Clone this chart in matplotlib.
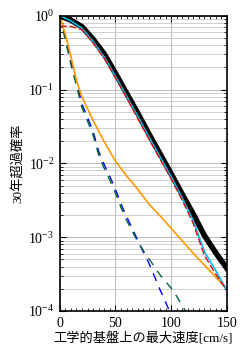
import numpy as np
import matplotlib
matplotlib.use("Agg")
import matplotlib.pyplot as plt
from matplotlib.ticker import LogLocator, MultipleLocator, NullFormatter

plt.rcParams['font.family'] = ['Liberation Serif', 'Noto Sans CJK JP']
plt.rcParams['mathtext.fontset'] = 'stix'

# values, as log10 of the exceedance probability
x_main = [0, 10, 20, 30, 40, 50, 60, 70, 80, 90, 100, 110, 120, 130, 140, 150]
black_dec = [0, 0.06, 0.15, 0.32, 0.52, 0.78, 1.05, 1.32, 1.60, 1.87, 2.14, 2.42, 2.69, 2.98, 3.21, 3.42]
cyan_dec = [0, 0.07, 0.17, 0.35, 0.56, 0.82, 1.09, 1.36, 1.64, 1.91, 2.18, 2.47, 2.78, 3.20, 3.45, 3.72]
red_dec = [0.14, 0.145, 0.19, 0.37, 0.58, 0.84, 1.11, 1.39, 1.67, 1.94, 2.21, 2.50, 2.82, 3.25, 3.50, 3.72]

x_orange = [0, 5, 10, 15, 20, 30, 40, 50, 60, 70, 80, 90, 100, 110, 120, 130, 140, 150]
orange_dec = [0, 0.25, 0.55, 0.88, 1.10, 1.42, 1.71, 1.97, 2.17, 2.35, 2.55, 2.71, 2.88, 3.05, 3.22, 3.38, 3.54, 3.70]

x_blue = [0, 5, 10, 15, 20, 25, 30, 35, 40, 45, 50, 55, 60, 65, 70, 75, 80, 85, 90, 95, 100]
blue_dec = [0, 0.30, 0.62, 0.90, 1.20, 1.38, 1.57, 1.84, 2.02, 2.18, 2.35, 2.55, 2.72, 2.88, 3.04, 3.20,
            3.35, 3.53, 3.71, 3.88, 4.05]

x_green = [0, 5, 10, 15, 20, 25, 30, 35, 40, 45, 50, 55, 60, 65, 70, 75, 80, 85, 90, 95, 100, 105, 110, 113]
green_dec = [0, 0.33, 0.66, 0.95, 1.25, 1.43, 1.62, 1.89, 2.07, 2.23, 2.40, 2.60, 2.77, 2.92, 3.06, 3.18,
             3.29, 3.40, 3.51, 3.60, 3.69, 3.80, 3.93, 4.0]


def prob(dec):
    return 10 ** (-np.array(dec))


fig = plt.figure(figsize=(2.47, 3.57), dpi=100)
ax = fig.add_axes([0.242, 0.129, 0.676, 0.827])

ax.plot(x_blue, prob(blue_dec), color="#0000ff", lw=1.0, dashes=(6, 5))
ax.plot(x_green, prob(green_dec), color="#006633", lw=1.0, dashes=(6, 5))
ax.plot(x_orange, prob(orange_dec), color="#ff9900", lw=1.2)
ax.plot(x_main, prob(black_dec), color="black", lw=4.0)
ax.plot(x_main, prob(cyan_dec), color="#00bbee", lw=1.2)
ax.plot(x_main, prob(red_dec), color="#dd1111", lw=1.0, dashes=(5, 2))

ax.set_yscale("log")
ax.set_xlim(0, 150)
ax.set_ylim(1e-4, 1)
ax.xaxis.set_major_locator(MultipleLocator(50))
ax.xaxis.set_minor_locator(MultipleLocator(5))
ax.yaxis.set_major_locator(LogLocator(base=10, numticks=10))
ax.yaxis.set_minor_locator(LogLocator(base=10, subs=np.arange(2, 10), numticks=20))
ax.yaxis.set_minor_formatter(NullFormatter())

ax.grid(True, which="major", color="#b0b0b0", lw=0.6)
ax.grid(True, which="minor", axis="y", color="#c8c8c8", lw=0.6)
ax.tick_params(which="both", direction="in", top=True, right=True, labelsize=10)
ax.tick_params(which="major", length=4, pad=4)
ax.tick_params(which="minor", length=2)
for s in ax.spines.values():
    s.set_linewidth(1.2)

ax.set_xlabel("工学的基盤上の最大速度[cm/s]", fontsize=9.5, labelpad=2)
ax.set_ylabel("30年超過確率", fontsize=9.5, labelpad=3)

fig.savefig("out.png", dpi=100)
